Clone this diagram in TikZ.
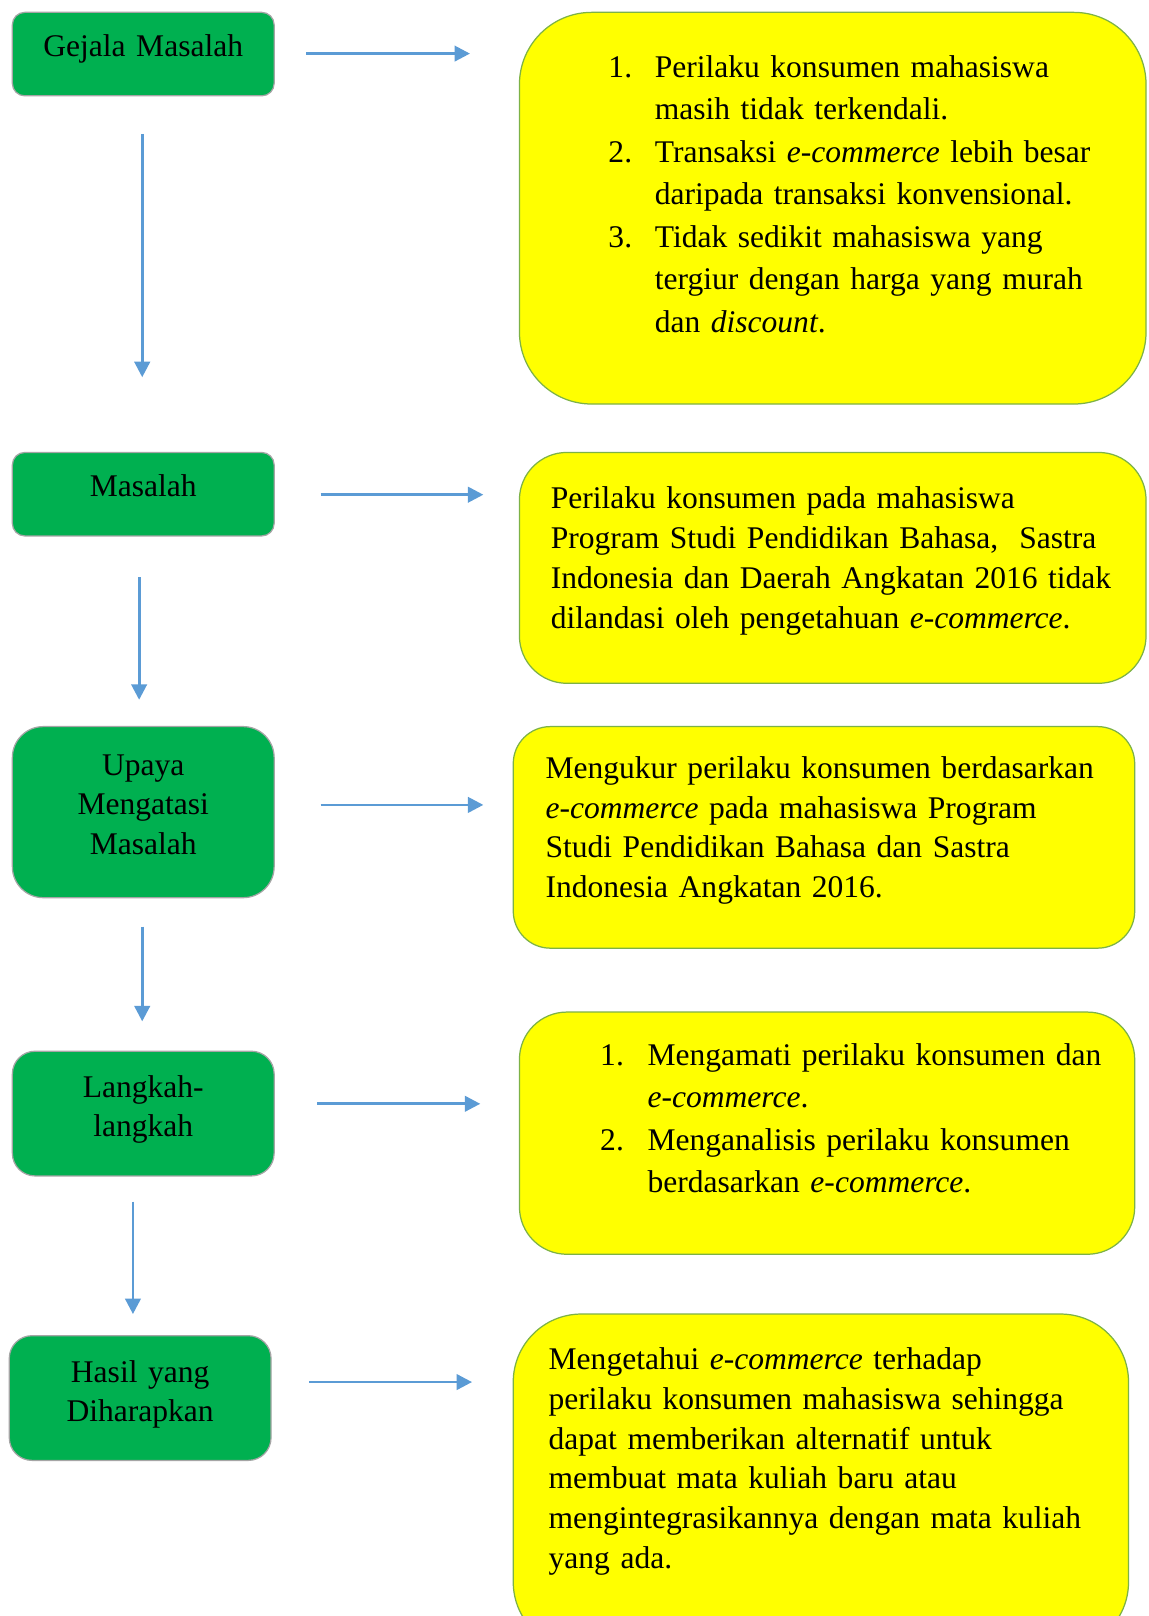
\documentclass[tikz,border=0pt]{standalone}
\usepackage{fontspec}
\setmainfont{Liberation Serif}
\usetikzlibrary{arrows.meta,fit}
\definecolor{gfill}{RGB}{0,176,80}
\definecolor{gline}{RGB}{165,165,165}
\definecolor{yfill}{RGB}{255,255,0}
\definecolor{yline}{RGB}{125,178,70}
\definecolor{arrc}{RGB}{91,155,213}
\begin{document}
\begin{tikzpicture}[x=0.5pt,y=-0.5pt,
  gbox/.style={draw=gline,fill=gfill,line width=0.6pt,inner sep=0pt},
  ybox/.style={draw=yline,fill=yfill,line width=0.6pt,inner sep=0pt},
  arr/.style={draw=arrc,line width=1.35pt,-{Triangle[length=7.5pt,width=7.5pt]}},
  txt/.style={inner sep=0pt,text width=290pt,align=left,anchor=base west},
  gtxt/.style={inner sep=0pt,text width=126pt,align=center,anchor=base}]
\useasboundingbox (0,0) rectangle (1114,1568);
\fill[white] (0,0) rectangle (1114,1568);
% green boxes
\node[gbox,rounded corners=6pt,fit={(12,12) (266,93)}] (g1) {};
\node[gbox,rounded corners=6pt,fit={(12,439) (266,520)}] (g2) {};
\node[gbox,rounded corners=15pt,fit={(12,705) (266,871)}] (g3) {};
\node[gbox,rounded corners=11pt,fit={(12,1020) (266,1141)}] (g4) {};
\node[gbox,rounded corners=11pt,fit={(9,1296) (263,1417)}] (g5) {};
% yellow boxes
\node[ybox,rounded corners=35pt,fit={(504,12) (1112,392)}] (y1) {};
\node[ybox,rounded corners=23pt,fit={(504,439) (1112,663)}] (y2) {};
\node[ybox,rounded corners=18pt,fit={(498,705) (1101,920)}] (y3) {};
\node[ybox,rounded corners=23pt,fit={(504,982) (1101,1217)}] (y4) {};
\begin{scope}
\clip (0,0) rectangle (1114,1568);
\node[ybox,rounded corners=33pt,fit={(498,1275) (1095,1601)}] (y5) {};
\end{scope}
% green texts
\node[gtxt,font={\fontsize{15.3pt}{19.3pt}\selectfont}] (t1) at (139,55) {Gejala Masalah};
\node[gtxt,font={\fontsize{15.3pt}{19.3pt}\selectfont}] (t2) at (139,482) {Masalah};
\node[gtxt,font={\fontsize{15.3pt}{19.3pt}\selectfont}] (t3) at (139,752) {Upaya\\Mengatasi\\Masalah};
\node[gtxt,font={\fontsize{15.3pt}{19pt}\selectfont}] (t4) at (139,1065) {Langkah-\\langkah};
\node[gtxt,font={\fontsize{15.3pt}{19pt}\selectfont}] (t5) at (136,1341) {Hasil yang\\Diharapkan};
% yellow texts
\node[txt,font={\fontsize{15.3pt}{20.6pt}\selectfont}] (u1) at (590,75)
{\makebox[22.5pt][l]{1.}Perilaku konsumen mahasiswa\\
\hspace*{22.5pt}masih tidak terkendali.\\
\makebox[22.5pt][l]{2.}Transaksi \textit{e-commerce} lebih besar\\
\hspace*{22.5pt}daripada transaksi konvensional.\\
\makebox[22.5pt][l]{3.}Tidak sedikit mahasiswa yang\\
\hspace*{22.5pt}tergiur dengan harga yang murah\\
\hspace*{22.5pt}dan \textit{discount}.};
\node[txt,font={\fontsize{15.3pt}{19.5pt}\selectfont}] (u2) at (534,493)
{Perilaku konsumen pada mahasiswa\\
Program Studi Pendidikan Bahasa,~ Sastra\\
Indonesia dan Daerah Angkatan 2016 tidak\\
dilandasi oleh pengetahuan \textit{e-commerce}.};
\node[txt,font={\fontsize{15.3pt}{19.35pt}\selectfont}] (u3) at (529,755)
{Mengukur perilaku konsumen berdasarkan\\
\textit{e-commerce} pada mahasiswa Program\\
Studi Pendidikan Bahasa dan Sastra\\
Indonesia Angkatan 2016.};
\node[txt,font={\fontsize{15.3pt}{20.5pt}\selectfont}] (u4) at (582,1034)
{\makebox[23pt][l]{1.}Mengamati perilaku konsumen dan\\
\hspace*{23pt}\textit{e-commerce}.\\
\makebox[23pt][l]{2.}Menganalisis perilaku konsumen\\
\hspace*{23pt}berdasarkan \textit{e-commerce}.};
\node[txt,font={\fontsize{15.3pt}{19.25pt}\selectfont}] (u5) at (532,1329)
{Mengetahui \textit{e-commerce} terhadap\\
perilaku konsumen mahasiswa sehingga\\
dapat memberikan alternatif untuk\\
membuat mata kuliah baru atau\\
mengintegrasikannya dengan mata kuliah\\
yang ada.};
% arrow end points
\coordinate (h1s) at (297,52);   \coordinate (h1e) at (456,52);
\coordinate (h2s) at (311,480);  \coordinate (h2e) at (469,480);
\coordinate (h3s) at (311,781);  \coordinate (h3e) at (469,781);
\coordinate (h4s) at (308,1071); \coordinate (h4e) at (466,1071);
\coordinate (h5s) at (300,1341); \coordinate (h5e) at (458,1341);
\coordinate (v1s) at (138,130);  \coordinate (v1e) at (138,366);
\coordinate (v2s) at (135,560);  \coordinate (v2e) at (135,679);
\coordinate (v3s) at (138,899);  \coordinate (v3e) at (138,991);
\coordinate (v4s) at (129,1166); \coordinate (v4e) at (129,1275);
\draw[arr] (h1s) -- (h1e);
\draw[arr] (h2s) -- (h2e);
\draw[arr] (h3s) -- (h3e);
\draw[arr] (h4s) -- (h4e);
\draw[arr] (h5s) -- (h5e);
\draw[arr] (v1s) -- (v1e);
\draw[arr] (v2s) -- (v2e);
\draw[arr] (v3s) -- (v3e);
\draw[arr] (v4s) -- (v4e);
\end{tikzpicture}
\end{document}
